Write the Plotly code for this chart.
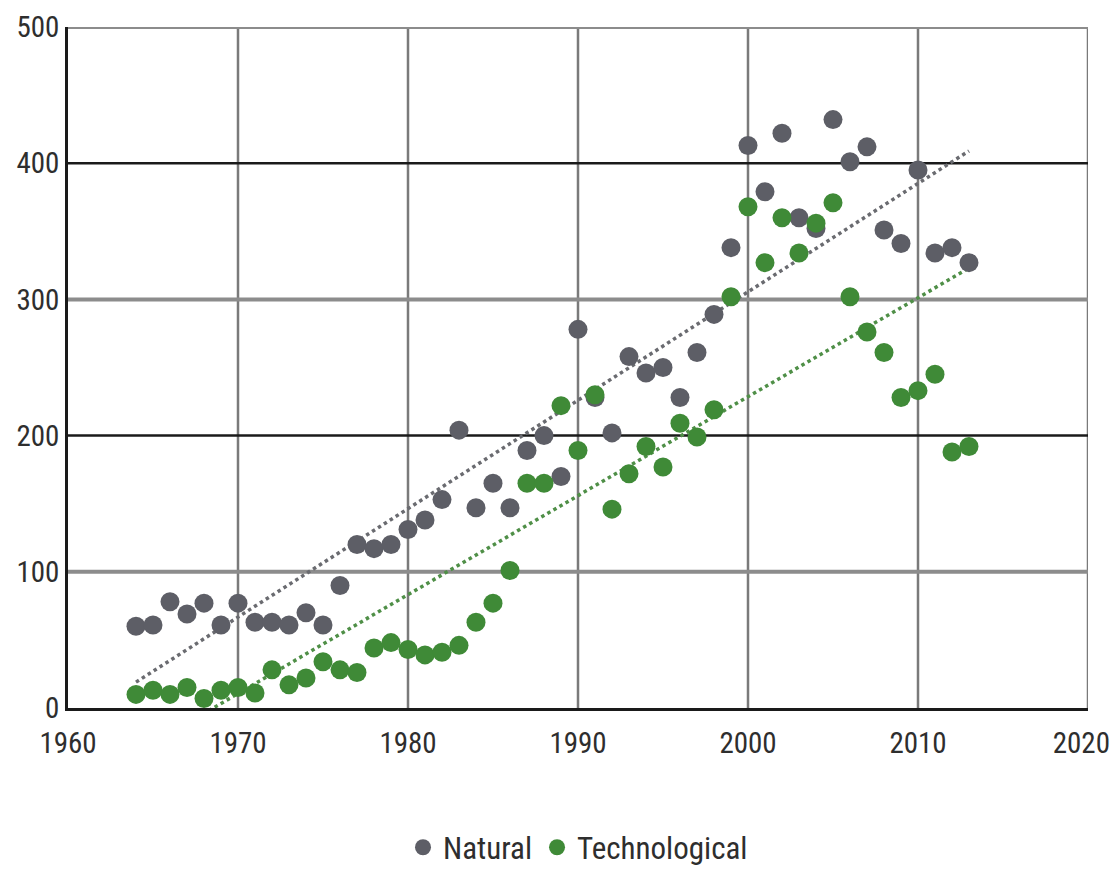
import plotly.graph_objects as go

years = list(range(1964, 2014))

natural = [60, 61, 78, 69, 77, 61, 77, 63, 63, 61,
           70, 61, 90, 120, 117, 120, 131, 138, 153, 204,
           147, 165, 147, 189, 200, 170, 278, 228, 202, 258,
           246, 250, 228, 261, 289, 338, 413, 379, 422, 360,
           352, 432, 401, 412, 351, 341, 395, 334, 338, 327]

technological = [10, 13, 10, 15, 7, 13, 15, 11, 28, 17,
                 22, 34, 28, 26, 44, 48, 43, 39, 41, 46,
                 63, 77, 101, 165, 165, 222, 189, 230, 146, 172,
                 192, 177, 209, 199, 219, 302, 368, 327, 360, 334,
                 356, 371, 302, 276, 261, 228, 233, 245, 188, 192]

trend_years = [1964, 2013]
trend_natural = [19, 409]
trend_technological = [-33, 323]

x_ticks = [1960, 1970, 1980, 1990, 2000, 2010, 2020]
x_tick_labels = ["1960", "1970", "1980", "1990", "2000", "2010", "2020\u00a0\u00a0"]
y_ticks = [0, 100, 200, 300, 400, 500]
y_grid_gray = [100, 300, 500]
y_grid_black = [200, 400]
x_grid = [1970, 1980, 1990, 2000, 2010, 2020]

GRAY = "#5d5e66"
GREEN = "#3f8a37"
FONT = "Roboto Condensed, Liberation Sans Narrow, sans-serif"
TXT = "#2e2e2e"

fig = go.Figure()

fig.add_trace(go.Scatter(x=trend_years, y=trend_natural, mode="lines",
                         line=dict(color="#6a6b70", width=3.5, dash="dot"),
                         showlegend=False, hoverinfo="skip"))
fig.add_trace(go.Scatter(x=trend_years, y=trend_technological, mode="lines",
                         line=dict(color="#4f8f47", width=3.5, dash="dot"),
                         showlegend=False, hoverinfo="skip"))

fig.add_trace(go.Scatter(x=years, y=natural, mode="markers", name="Natural",
                         marker=dict(color=GRAY, size=19, line=dict(width=0)),
                         cliponaxis=False))
fig.add_trace(go.Scatter(x=years, y=technological, mode="markers", name="Technological",
                         marker=dict(color=GREEN, size=19, line=dict(width=0)),
                         cliponaxis=False))

shapes = []
for xv in x_grid:
    shapes.append(dict(type="line", xref="x", yref="y", x0=xv, x1=xv, y0=0, y1=500,
                       line=dict(color="#7a7a7a", width=2.5), layer="below"))
for yv in y_grid_gray:
    shapes.append(dict(type="line", xref="x", yref="y", x0=1960, x1=2020, y0=yv, y1=yv,
                       line=dict(color="#8c8c8c", width=4), layer="below"))
for yv in y_grid_black:
    shapes.append(dict(type="line", xref="x", yref="y", x0=1960, x1=2020, y0=yv, y1=yv,
                       line=dict(color="#1a1a1a", width=2.5), layer="below"))

fig.update_layout(
    width=1103, height=866,
    margin=dict(l=60, r=23, t=19, b=166, autoexpand=False),
    paper_bgcolor="white", plot_bgcolor="white",
    font=dict(family=FONT, color=TXT, size=29),
    shapes=shapes,
    showlegend=True,
    legend=dict(orientation="h", x=0.5, xanchor="center", y=-0.205, yanchor="middle",
                font=dict(size=31, family=FONT, color=TXT),
                itemsizing="trace", itemwidth=30, tracegroupgap=0,
                bgcolor="rgba(0,0,0,0)"),
    xaxis=dict(range=[1960, 2020], tickvals=x_ticks, ticktext=x_tick_labels,
               showgrid=False, zeroline=False, showline=True, linecolor="#1a1a1a",
               linewidth=2.5, ticks="", automargin=False, ticklabelstandoff=7,
               ticklabeloverflow="allow",
               tickfont=dict(size=29, family=FONT, color=TXT),
               fixedrange=True),
    yaxis=dict(range=[0, 500], tickvals=y_ticks, ticktext=[str(v) for v in y_ticks],
               showgrid=False, zeroline=False, showline=True, linecolor="#1a1a1a",
               linewidth=2.5, ticks="", ticklabelstandoff=0, automargin=False,
               ticklabeloverflow="allow",
               tickfont=dict(size=29, family=FONT, color=TXT),
               fixedrange=True),
)

fig.write_html("out.html")
